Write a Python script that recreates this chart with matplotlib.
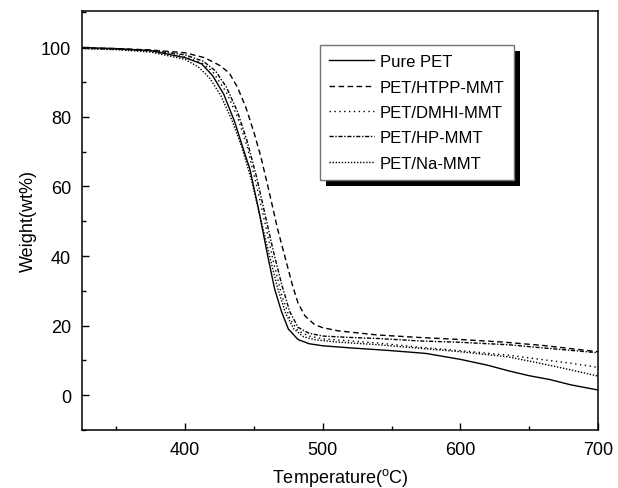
import matplotlib
matplotlib.use("Agg")
import matplotlib.pyplot as plt
from matplotlib.patches import Rectangle
from matplotlib.ticker import MultipleLocator

plt.rcParams['font.family'] = ['Liberation Sans', 'DejaVu Sans']
plt.rcParams['mathtext.fontset'] = 'custom'
plt.rcParams['mathtext.rm'] = 'Liberation Sans'

# TGA curves: temperature (°C) and residual weight (wt%)
pure_T = [325, 350, 375, 400, 412, 420, 428, 436, 442, 447, 453, 460, 465, 470,
          475, 482, 490, 500, 520, 550, 575, 600, 620, 635, 650, 665, 680, 700]
pure_W = [99.9, 99.6, 99.0, 97.0, 95.2, 91.8, 86.5, 78.5, 71.0, 65.0, 54.0, 40.0,
          30.5, 24.0, 19.0, 16.0, 14.8, 14.2, 13.6, 12.8, 12.0, 10.3, 8.6, 7.0,
          5.6, 4.5, 3.0, 1.5]

htpp_T = [325, 350, 375, 400, 414, 425, 432, 438, 444, 450, 455, 461, 467, 473,
          478, 482, 487, 494, 500, 511, 540, 570, 600, 630, 660, 700]
htpp_W = [99.8, 99.6, 99.2, 98.4, 97.0, 94.8, 92.6, 88.5, 82.8, 75.5, 68.5, 58.5,
          48.0, 39.0, 31.5, 26.5, 22.8, 20.3, 19.4, 18.5, 17.3, 16.6, 16.0, 15.3,
          14.3, 12.5]

dmhi_T = [325, 350, 375, 400, 412, 420, 430, 438, 445, 452, 458, 464, 470, 476,
          482, 490, 500, 520, 540, 570, 600, 635, 660, 680, 700]
dmhi_W = [99.7, 99.4, 98.9, 97.2, 95.5, 93.0, 87.0, 80.0, 71.5, 60.0, 49.5, 38.5,
          29.0, 22.0, 18.5, 17.0, 16.2, 15.6, 15.0, 13.8, 12.8, 11.5, 10.2, 9.2, 8.0]

hp_T = [325, 350, 375, 400, 413, 422, 430, 438, 445, 452, 458, 464, 470, 476,
        482, 490, 500, 520, 540, 570, 600, 635, 660, 700]
hp_W = [99.7, 99.5, 99.1, 97.8, 96.0, 93.2, 88.5, 81.5, 73.0, 62.5, 52.0, 41.5,
        32.0, 24.0, 19.5, 17.8, 17.0, 16.6, 16.3, 15.6, 15.2, 14.5, 13.6, 12.2]

na_T = [325, 350, 375, 400, 410, 418, 426, 434, 441, 448, 455, 461, 467, 473,
        479, 486, 495, 510, 540, 570, 600, 635, 660, 680, 700]
na_W = [99.6, 99.3, 98.6, 96.5, 94.2, 91.0, 86.0, 79.0, 71.5, 62.0, 50.5, 40.5,
        31.0, 23.5, 19.0, 16.8, 15.9, 15.3, 14.5, 13.5, 12.5, 11.0, 9.0, 7.3, 5.5]

labels = ['Pure PET', 'PET/HTPP-MMT', 'PET/DMHI-MMT', 'PET/HP-MMT', 'PET/Na-MMT']

fig = plt.figure(figsize=(6.18, 4.89), dpi=100)
ax = fig.add_axes([0.1327, 0.1186, 0.8349, 0.8575])

lw = 1.0
ax.plot(pure_T, pure_W, color='black', lw=lw, label=labels[0])
ax.plot(htpp_T, htpp_W, color='black', lw=lw, dashes=(4, 2.5), label=labels[1])
ax.plot(dmhi_T, dmhi_W, color='black', lw=lw, dashes=(1, 2.5), label=labels[2])
ax.plot(hp_T, hp_W, color='black', lw=lw, dashes=(3, 1.2, 1, 1.2), label=labels[3])
ax.plot(na_T, na_W, color='black', lw=lw, dashes=(1, 1.2), label=labels[4])

ax.set_xlim(325, 700)
ax.set_ylim(-10, 110.5)
ax.xaxis.set_major_locator(MultipleLocator(100))
ax.xaxis.set_minor_locator(MultipleLocator(50))
ax.yaxis.set_major_locator(MultipleLocator(20))
ax.yaxis.set_minor_locator(MultipleLocator(10))
ax.tick_params(which='both', direction='in', top=False, right=False,
               labelsize=13, width=1.0)
ax.tick_params(which='major', length=5, pad=8)
ax.tick_params(which='minor', length=3)
for s in ax.spines.values():
    s.set_linewidth(1.1)

ax.set_xlabel(r'Temperature($^{\mathrm{o}}$C)', fontsize=13, labelpad=6)
ax.set_ylabel('Weight(wt%)', fontsize=13, labelpad=3)

leg = ax.legend(loc='upper left', bbox_to_anchor=(0.461, 0.918), borderaxespad=0,
                fontsize=12, handlelength=2.7, handletextpad=0.35,
                labelspacing=0.62, borderpad=0.55, fancybox=False,
                edgecolor='0.45', framealpha=1)
leg.get_frame().set_linewidth(1.0)
leg.set_zorder(6)

# solid drop shadow behind the legend box
fig.canvas.draw()
inv = ax.transAxes.inverted()
bb = leg.get_window_extent().transformed(inv)
px = inv.transform((6, 0))[0] - inv.transform((0, 0))[0]
py = inv.transform((0, 6))[1] - inv.transform((0, 0))[1]
ax.add_patch(Rectangle((bb.x0 + px, bb.y0 - py), bb.width, bb.height,
                       transform=ax.transAxes, facecolor='black',
                       edgecolor='none', zorder=5))

fig.savefig('out.png', dpi=100)
